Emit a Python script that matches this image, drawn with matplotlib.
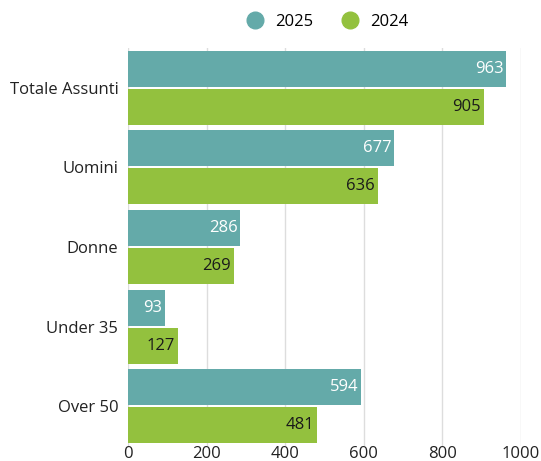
import matplotlib
matplotlib.use("Agg")
import matplotlib.pyplot as plt
from matplotlib.lines import Line2D
import numpy as np

categories = ["Totale Assunti", "Uomini", "Donne", "Under 35", "Over 50"]
series_names = ["2025", "2024"]
values_2025 = [963, 677, 286, 93, 594]
values_2024 = [905, 636, 269, 127, 481]
xticks = [0, 200, 400, 600, 800, 1000]

c2025 = "#64aaa9"
c2024 = "#93c13e"
plt.rcParams['font.family'] = ['Open Sans', 'DejaVu Sans']
FS = 12

fig = plt.figure(figsize=(5.41, 4.61), dpi=100)
ax = fig.add_axes([128/541, 1-446/461, 393/541, 398/461])

y = np.arange(len(categories))
h = 0.452
off = 0.239
b1 = ax.barh(y - off, values_2025, height=h, color=c2025, linewidth=0, zorder=3)
b2 = ax.barh(y + off, values_2024, height=h, color=c2024, linewidth=0, zorder=3)

for rect, v in zip(b1, values_2025):
    ax.text(v - 7, rect.get_y() + rect.get_height()/2, str(v), ha="right", va="center",
            color="white", fontsize=FS, zorder=4)
for rect, v in zip(b2, values_2024):
    ax.text(v - 7, rect.get_y() + rect.get_height()/2, str(v), ha="right", va="center",
            color="#1a1a1a", fontsize=FS, zorder=4)

ax.set_xlim(0, 1000)
ax.set_ylim(len(categories) - 0.5, -0.5)
ax.set_xticks(xticks)
ax.set_xticklabels([str(t) for t in xticks])
ax.set_yticks(y)
ax.set_yticklabels(categories)
ax.tick_params(axis="both", length=0, labelsize=FS, colors="#222222")
ax.tick_params(axis="y", pad=7)
ax.tick_params(axis="x", pad=0)
ax.grid(axis="x", color="#dddddd", linewidth=1, zorder=0)
for s in ax.spines.values():
    s.set_visible(False)

handles = [Line2D([], [], marker="o", linestyle="none", markersize=12, color=c2025),
           Line2D([], [], marker="o", linestyle="none", markersize=12, color=c2024)]
fig.legend(handles, series_names, loc="center", bbox_to_anchor=(0.598, 1-22/461), ncol=2,
           frameon=False, fontsize=FS, handletextpad=0.2, columnspacing=1.2)

fig.savefig("out.png", dpi=100)
